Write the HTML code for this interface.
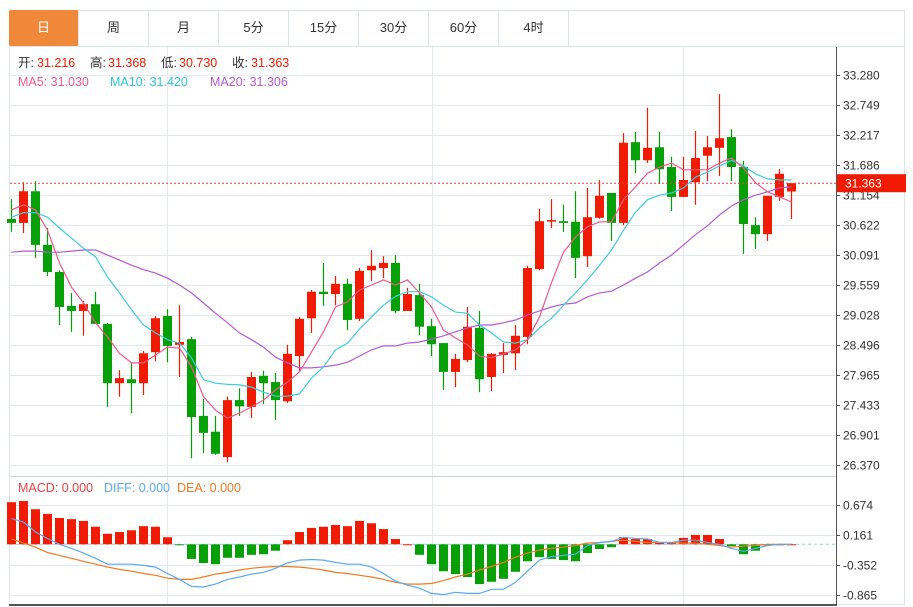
<!DOCTYPE html>
<html><head><meta charset="utf-8">
<style>
body{margin:0;background:#fff;font-family:"Liberation Sans","Noto Sans CJK SC",sans-serif;}
#wrap{position:relative;width:913px;height:607px;overflow:hidden;}
.tab{position:absolute;top:10px;height:36px;width:70px;line-height:36px;text-align:center;font-size:13px;color:#333;box-sizing:border-box;border-right:1px solid #dde3ea;}
</style></head>
<body>
<div id="wrap">
<svg id="svg" width="913" height="607" style="position:absolute;left:0;top:0"></svg>
<div class="tab" style="left:9px;background:#f0883a;color:#fff;border-radius:2px">日</div>
<div class="tab" style="left:79px">周</div>
<div class="tab" style="left:149px">月</div>
<div class="tab" style="left:219px">5分</div>
<div class="tab" style="left:289px">15分</div>
<div class="tab" style="left:359px">30分</div>
<div class="tab" style="left:429px">60分</div>
<div class="tab" style="left:499px">4时</div>
</div>
<script>
const opens=[30.73,30.66,31.22,30.27,29.79,29.19,29.10,29.22,28.87,27.82,27.89,27.82,28.37,29.01,28.50,28.60,27.24,26.96,26.51,27.52,27.40,27.95,27.84,27.50,28.30,28.97,29.44,29.40,29.58,28.96,29.82,29.86,29.95,29.10,29.38,28.83,28.53,28.02,28.23,28.80,27.93,28.32,28.35,28.64,29.84,30.69,30.69,30.68,30.07,30.75,31.19,30.66,32.09,31.77,32.00,31.65,31.12,31.38,31.85,31.99,32.18,31.65,30.62,30.46,31.12,31.216];
const highs=[31.08,31.38,31.40,30.57,29.82,29.42,29.28,29.44,28.89,28.05,28.18,28.39,29.01,29.13,29.20,28.64,27.54,27.24,27.58,27.73,28.02,28.04,28.00,28.50,28.99,29.47,29.95,29.72,29.67,29.86,30.18,30.07,30.09,29.51,29.58,28.96,28.53,28.34,29.17,29.10,28.35,28.53,28.85,29.90,30.91,31.08,30.98,31.22,31.28,31.42,31.19,32.25,32.27,32.70,32.27,31.83,31.83,32.29,32.20,32.94,32.32,31.76,30.76,31.14,31.61,31.368];
const lows=[30.50,30.48,30.04,29.72,28.85,28.73,28.66,28.87,27.40,27.58,27.29,27.61,28.21,28.19,27.93,26.49,26.58,26.55,26.42,27.24,27.20,27.45,27.17,27.47,28.04,28.71,29.19,29.20,28.76,28.92,29.63,29.68,29.06,29.10,28.67,28.30,27.70,27.75,28.19,27.66,27.68,28.00,28.05,28.51,29.82,30.57,30.50,29.68,29.88,30.73,30.34,30.62,31.54,31.72,31.35,30.87,31.12,30.98,31.40,31.49,31.40,30.11,30.20,30.34,31.05,30.730];
const closes=[30.66,31.22,30.27,29.79,29.17,29.10,29.22,28.87,27.82,27.91,27.82,28.35,28.97,28.48,28.55,27.22,26.94,26.57,27.52,27.41,27.93,27.82,27.52,28.34,28.96,29.44,29.40,29.58,28.94,29.81,29.90,29.95,29.10,29.40,28.82,28.51,28.02,28.25,28.82,27.89,28.34,28.37,28.66,29.86,30.69,30.71,30.66,30.04,30.76,31.14,30.66,32.08,31.77,31.99,31.61,31.12,31.42,31.81,32.00,32.16,31.65,30.64,30.46,31.14,31.53,31.363];
const ma5=[30.89,30.98,30.89,30.53,29.95,29.52,29.24,28.89,28.64,28.35,28.18,28.18,28.32,28.46,28.44,28.11,27.58,27.34,27.20,27.29,27.40,27.52,27.70,27.84,28.02,28.37,28.73,29.17,29.26,29.47,29.56,29.65,29.56,29.65,29.42,29.17,28.76,28.62,28.50,28.30,28.27,28.34,28.41,28.59,28.99,29.60,30.14,30.41,30.59,30.68,30.68,31.07,31.30,31.54,31.65,31.72,31.60,31.60,31.60,31.72,31.81,31.63,31.37,31.21,31.12,31.03];
const ma10=[30.76,30.84,30.84,30.76,30.57,30.39,30.21,30.06,29.70,29.42,29.12,28.85,28.71,28.59,28.53,28.27,27.88,27.82,27.80,27.79,27.75,27.66,27.59,27.59,27.63,27.91,28.11,28.41,28.53,28.78,28.99,29.20,29.36,29.44,29.44,29.35,29.20,29.08,29.06,28.85,28.71,28.55,28.53,28.59,28.80,28.97,29.20,29.42,29.65,29.91,30.18,30.53,30.85,31.07,31.15,31.19,31.28,31.47,31.56,31.67,31.77,31.67,31.53,31.44,31.42,31.42];
const ma20=[30.14,30.16,30.16,30.14,30.14,30.16,30.18,30.18,30.09,30.00,29.91,29.83,29.77,29.68,29.56,29.42,29.24,29.06,28.89,28.71,28.59,28.46,28.28,28.18,28.09,28.09,28.11,28.14,28.19,28.30,28.41,28.48,28.48,28.53,28.55,28.60,28.66,28.73,28.80,28.85,28.85,28.89,28.94,29.03,29.10,29.17,29.22,29.24,29.35,29.42,29.45,29.56,29.68,29.79,29.95,30.09,30.27,30.45,30.61,30.80,30.96,31.07,31.15,31.21,31.28,31.30];
const macd=[.72,.74,.60,.52,.45,.43,.40,.30,.18,.21,.24,.31,.30,.12,-.01,-.25,-.32,-.34,-.23,-.23,-.18,-.17,-.11,.07,.21,.28,.30,.33,.31,.40,.36,.26,.09,0,-.18,-.34,-.46,-.51,-.56,-.68,-.64,-.59,-.47,-.29,-.22,-.25,-.27,-.29,-.15,-.08,-.05,.12,.09,.09,.04,.02,.11,.16,.16,.09,-.03,-.17,-.11,-.01,0,0];
const diff=[0.44,0.38,0.21,0.10,0,-0.07,-0.15,-0.24,-0.34,-0.34,-0.34,-0.36,-0.39,-0.50,-0.60,-0.72,-0.73,-0.68,-0.60,-0.56,-0.51,-0.48,-0.41,-0.32,-0.27,-0.26,-0.27,-0.31,-0.34,-0.34,-0.39,-0.50,-0.63,-0.70,-0.75,-0.84,-0.86,-0.82,-0.84,-0.84,-0.77,-0.77,-0.65,-0.46,-0.27,-0.21,-0.19,-0.17,-0.02,0.03,0.05,0.12,0.10,0.09,0.03,0.03,0.07,0.07,0.03,0,-0.07,-0.12,-0.07,-0.02,0,0];
const dea=[0.09,0.02,-0.05,-0.14,-0.19,-0.24,-0.29,-0.34,-0.39,-0.43,-0.46,-0.50,-0.53,-0.58,-0.60,-0.60,-0.56,-0.51,-0.48,-0.44,-0.41,-0.39,-0.38,-0.38,-0.39,-0.41,-0.44,-0.48,-0.50,-0.53,-0.56,-0.60,-0.65,-0.68,-0.68,-0.67,-0.62,-0.56,-0.51,-0.44,-0.38,-0.31,-0.22,-0.15,-0.10,-0.07,-0.05,-0.02,0.02,0.03,0.05,0.07,0.05,0.03,0.03,0.03,0.02,0.02,0,-0.02,-0.05,-0.03,-0.02,0,0,0];
const priceTicks=["33.280","32.749","32.217","31.686","31.154","30.622","30.091","29.559","29.028","28.496","27.965","27.433","26.901","26.370"];
const macdTicks=["0.674","0.161","-0.352","-0.865"];
const lastPrice=31.363;

const NS="http://www.w3.org/2000/svg", svg=document.getElementById('svg');
const RED="#f21a00", GREEN="#05a005", GRID="#e4e9ef";
function el(t,a,parent){const e=document.createElementNS(NS,t);for(const k in a)e.setAttribute(k,a[k]);(parent||svg).appendChild(e);return e;}
const X=i=>11.5+12*i;
const pTop=33.28, pStep=0.5315;
const Y=p=>75+(pTop-p)/pStep*30;
const M=v=>544.3-v/0.513*30;

// frame
let f=el('rect',{x:9.5,y:10.5,width:895,height:594,fill:'none',stroke:'#dde3ea'});

el('line',{x1:9,y1:46.5,x2:905,y2:46.5,stroke:'#dde3ea'});
// grid
priceTicks.forEach((t,k)=>{const y=Math.round(Y(parseFloat(t)))+0.5;
 const g=el('line',{x1:10,y1:y,x2:836,y2:y,stroke:GRID});
 el('line',{x1:836,y1:y,x2:840,y2:y,stroke:'#555'});
 const tx=el('text',{x:843,y:y+4,'font-size':12,fill:'#333'});tx.textContent=t;
 });
macdTicks.forEach(t=>{const y=Math.round(M(parseFloat(t)))+0.5;
 const g=el('line',{x1:10,y1:y,x2:836,y2:y,stroke:GRID});
 el('line',{x1:836,y1:y,x2:840,y2:y,stroke:'#555'});
 const tx=el('text',{x:843,y:y+4,'font-size':12,fill:'#333'});tx.textContent=t;
 });
[167.5,432.5,683.5].forEach(x=>{el('line',{x1:x,y1:47,x2:x,y2:604,stroke:GRID});});
el('line',{x1:9,y1:476.5,x2:836,y2:476.5,stroke:'#ccd3dc'});
el('line',{x1:836.5,y1:47,x2:836.5,y2:605,stroke:'#555'});
el('line',{x1:9,y1:605,x2:837,y2:605,stroke:'#222','stroke-width':1.5});
// zero line
el('line',{x1:10,y1:M(0),x2:836,y2:M(0),stroke:'#8fd0f0','stroke-dasharray':'3,3'});
// candles
opens.forEach((o,i)=>{const c=closes[i],col=c>=o?RED:GREEN,x=X(i);
 const w=el('line',{x1:x,y1:Y(highs[i]),x2:x,y2:Y(lows[i]),stroke:col,'stroke-width':1.2});
 
 const t=Y(Math.max(o,c)),b=Y(Math.min(o,c));
 const r=el('rect',{x:x-4.5,y:t,width:9,height:Math.max(1.5,b-t),fill:col});
 });
function line(arr,f,col,name){const d=arr.map((v,i)=>(i?'L':'M')+X(i).toFixed(1)+','+f(v).toFixed(1)).join('');
 const p=el('path',{d:d,fill:'none',stroke:col,'stroke-width':1.2});}
line(ma20,Y,'#b45ad2','ma20-line');line(ma10,Y,'#3ccde0','ma10-line');line(ma5,Y,'#f0588a','ma5-line');
// last price
const ly=Y(lastPrice);
el('line',{x1:10,y1:ly,x2:836,y2:ly,stroke:'#f04040','stroke-dasharray':'2,2'});
const lb=el('rect',{x:837,y:ly-9,width:69,height:18,fill:'#f21a00'});
const lt=el('text',{x:845,y:ly+4.5,'font-size':12,fill:'#fff'});lt.textContent=lastPrice.toFixed(3);
// macd bars
macd.forEach((v,i)=>{const y0=M(0),y1=M(v);const r=el('rect',{x:X(i)-4.5,y:Math.min(y0,y1),width:9,height:Math.max(1,Math.abs(y1-y0)),fill:v>=0?RED:GREEN});
 });
line(dea,M,'#f07a20','dea-line');line(diff,M,'#5aaaf0','diff-line');
// legends
function txt(x,y,s,col,name){const t=el('text',{x:x,y:y,'font-size':12.5,fill:col,'font-family':'"Liberation Sans","Noto Sans CJK SC",sans-serif'});t.textContent=s;return t;}
const hdr=[["开:",18,"#333"],["31.216",37,RED],["高:",90,"#333"],["31.368",108,RED],["低:",161,"#333"],["30.730",179,RED],["收:",232,"#333"],["31.363",251,RED]];
hdr.forEach(h=>txt(h[1],67,h[0],h[2],'ohlc-legend'));
txt(18,86,"MA5: 31.030","#f0588a",'ma5-legend');txt(110,86,"MA10: 31.420","#2ec5dc",'ma10-legend');txt(210,86,"MA20: 31.306","#b45ad2",'ma20-legend');
txt(18,492,"MACD: 0.000","#f04040",'macd-legend');txt(104,492,"DIFF: 0.000","#5aaaf0",'diff-legend');txt(177,492,"DEA: 0.000","#f07a20",'dea-legend');
</script>
</body></html>
